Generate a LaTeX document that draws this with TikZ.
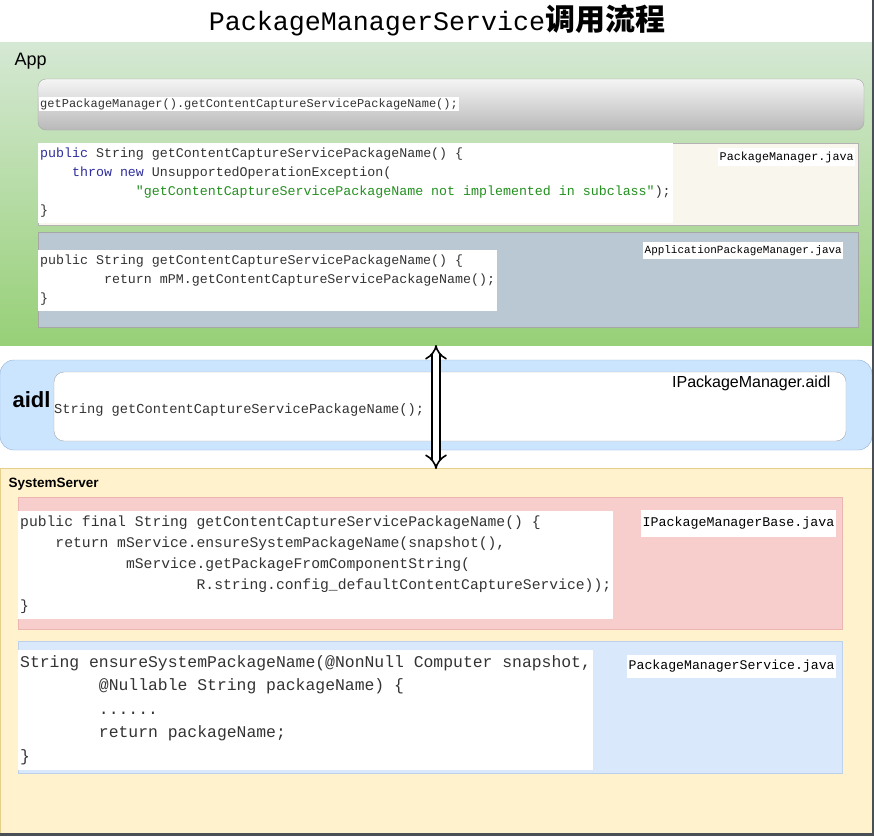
\documentclass[tikz,border=0pt]{standalone}
\usepackage{fontspec}
\setmainfont{Liberation Sans}
\newfontfamily\codefont{Liberation Mono}
\newfontfamily\cjkfont{Noto Sans CJK SC}
\usepackage{xcolor}
\usepackage{tikz}
\usetikzlibrary{calc, positioning, arrows.meta}

\definecolor{appTop}{HTML}{D5E8D4}
\definecolor{appBot}{HTML}{97D077}
\definecolor{pmFill}{HTML}{F9F7ED}
\definecolor{apmFill}{HTML}{BAC8D3}
\definecolor{aidlFill}{HTML}{CCE5FF}
\definecolor{aidlLine}{HTML}{8FB0D8}
\definecolor{sysFill}{HTML}{FFF2CC}
\definecolor{sysLine}{HTML}{E6CF8A}
\definecolor{redFill}{HTML}{F8CECC}
\definecolor{redLine}{HTML}{EDB5B2}
\definecolor{blueFill}{HTML}{DAE8FC}
\definecolor{blueLine}{HTML}{BDD0EC}
\definecolor{codeGray}{HTML}{333333}
\definecolor{kwBlue}{HTML}{2F2F9F}
\definecolor{strGreen}{HTML}{23901F}
\definecolor{frameGray}{HTML}{4A4F55}

\newcommand\tabsp[1]{\hspace*{#1\fontcharwd\font`x}}
\newcommand\kw[1]{\textcolor{kwBlue}{#1}}
\newcommand\strlit[1]{\textcolor{strGreen}{#1}}

\begin{document}
\begin{tikzpicture}[x=1pt, y=-1pt, >=Stealth,
    codebox/.style={fill=white, text=codeGray, align=left, inner xsep=2pt, inner ysep=5pt, anchor=north west},
    filebox/.style={fill=white, text=black, inner xsep=1.5pt, anchor=north west}]
    \useasboundingbox (0,0) rectangle (874,836);
    \fill[white] (0,0) rectangle (874,836);

    \node[font=\codefont\fontsize{26.7}{30}\selectfont] (title) at (437,20)
        {PackageManagerService{\cjkfont\bfseries\fontsize{30}{32}\selectfont 调用流程}};

    % App
    \path[top color=appTop, bottom color=appBot] (0,42) rectangle (872,345);
    \node[anchor=west, font=\fontsize{18}{20}\selectfont] (app) at (11,61) {App};

    \draw[top color=gray!8, bottom color=gray!55, draw=gray!70, rounded corners=8pt] (38,79) rectangle (864,130);
    \node[fill=white, text=codeGray, anchor=west, inner sep=1pt, font=\codefont\fontsize{12}{14}\selectfont] (call) at (39,104)
        {getPackageManager().getContentCaptureServicePackageName();};

    \draw[fill=pmFill, draw=gray!60] (38,143) rectangle (858,225);
    \node[codebox, font=\codefont\fontsize{13.3}{19}\selectfont] (pmcode) at (38,143)
        {\kw{public} String getContentCaptureServicePackageName() \{\\
         \tabsp{4}\kw{throw new} UnsupportedOperationException(\\
         \tabsp{12}\strlit{"getContentCaptureServicePackageName not implemented in subclass"});\\
         \}};
    \node[filebox, font=\codefont\fontsize{11.75}{13}\selectfont] (pmfile) at (718,148) {PackageManager.java};

    \draw[fill=apmFill, draw=gray!70] (38,232) rectangle (858,327);
    \node[codebox, font=\codefont\fontsize{13.3}{19}\selectfont] (apmcode) at (38,250)
        {public String getContentCaptureServicePackageName() \{\\
         \tabsp{8}return mPM.getContentCaptureServicePackageName();\\
         \}};
    \node[filebox, font=\codefont\fontsize{10.95}{12}\selectfont] (apmfile) at (643,242) {ApplicationPackageManager.java};

    % aidl
    \draw[fill=aidlFill, draw=aidlLine, rounded corners=14pt] (0,360) rectangle (872,450);
    \node[anchor=west, font=\bfseries\fontsize{22}{24}\selectfont] (aidl) at (9,400) {aidl};
    \draw[fill=white, draw=gray!70, rounded corners=10pt] (54,372) rectangle (846,441);
    \node[anchor=west, inner sep=0pt, text=codeGray, font=\codefont\fontsize{13.7}{16}\selectfont] (aidlcode) at (54,410)
        {String getContentCaptureServicePackageName();};
    \node[anchor=east, font=\fontsize{16}{18}\selectfont] (aidlfile) at (834,383) {IPackageManager.aidl};

    % SystemServer
    \draw[fill=sysFill, draw=sysLine] (0,468) rectangle (872,833);
    \node[anchor=west, font=\bfseries\fontsize{13.5}{15}\selectfont] (sys) at (5,484) {SystemServer};

    \draw[fill=redFill, draw=redLine] (18,497) rectangle (842,629);
    \node[codebox, font=\codefont\fontsize{14.7}{21}\selectfont] (basecode) at (18,511)
        {public final String getContentCaptureServicePackageName() \{\\
         \tabsp{4}return mService.ensureSystemPackageName(snapshot(),\\
         \tabsp{12}mService.getPackageFromComponentString(\\
         \tabsp{20}R.string.config\_defaultContentCaptureService));\\
         \}};
    \node[filebox, inner ysep=7pt, font=\codefont\fontsize{13.3}{15}\selectfont] (basefile) at (641,510) {IPackageManagerBase.java};

    \draw[fill=blueFill, draw=blueLine] (18,641) rectangle (842,773);
    \node[codebox, inner ysep=5pt, font=\codefont\fontsize{16.4}{23.5}\selectfont] (pmscode) at (18,650)
        {String ensureSystemPackageName(@NonNull Computer snapshot,\\
         \tabsp{8}@Nullable String packageName) \{\\
         \tabsp{8}......\\
         \tabsp{8}return packageName;\\
         \}};
    \node[filebox, inner ysep=5pt, font=\codefont\fontsize{13.2}{15}\selectfont] (pmsfile) at (627,655) {PackageManagerService.java};

    % binder call
    \coordinate (appEnd) at (436,345);
    \coordinate (sysEnd) at (436,469);
    \draw[double, double distance=6pt, line width=1.6pt,
        {Implies[length=9pt, width=18pt]}-{Implies[length=9pt, width=18pt]}] (appEnd) -- (sysEnd);

    \fill[frameGray] (872,0) rectangle (874,836);
    \fill[frameGray] (0,833) rectangle (874,836);
\end{tikzpicture}
\end{document}
